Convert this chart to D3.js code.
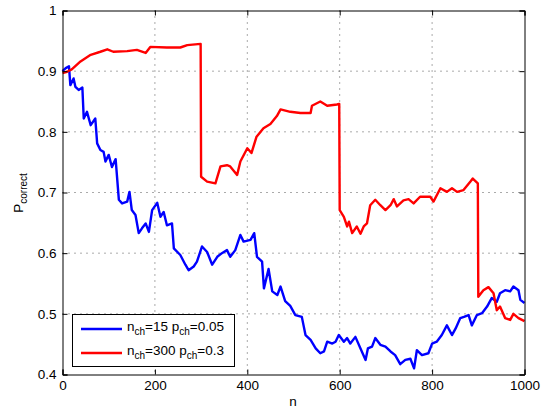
<!DOCTYPE html>
<html>
<head>
<meta charset="utf-8">
<script src="https://cdn.jsdelivr.net/npm/d3@7"></script>
<style>
  body { margin: 0; background: #fff; }
  text { font-family: "Liberation Sans", Arial, sans-serif; }
</style>
</head>
<body>
<svg id="chart"></svg>
<script>
// series: step index n and P_correct
var redN = [0,10,20,39,61,82,97,110,140,161,180,190,226,255,270,299,
            300,313,331,342,356,363,378,385,400,409,420,435,450,464,472,493,515,537,540,558,573,594,599,
            600,609,616,620,627,637,645,652,659,666,677,688,699,710,717,724,738,749,760,774,796,803,818,832,843,854,868,883,888,899,
            900,911,922,933,940,947,958,969,976,987,1000];
var redP = [0.897,0.899,0.903,0.916,0.927,0.932,0.936,0.932,0.933,0.935,0.930,0.940,0.939,0.939,0.943,0.945,
            0.726,0.718,0.715,0.743,0.745,0.743,0.729,0.751,0.773,0.765,0.792,0.806,0.813,0.826,0.837,0.833,0.831,0.831,0.843,0.850,0.843,0.845,0.846,
            0.671,0.660,0.644,0.652,0.633,0.644,0.632,0.644,0.649,0.679,0.688,0.679,0.671,0.679,0.689,0.677,0.687,0.689,0.682,0.693,0.693,0.685,0.707,0.701,0.707,0.701,0.704,0.718,0.723,0.715,
            0.528,0.539,0.544,0.534,0.506,0.512,0.493,0.490,0.500,0.493,0.488];

var blueN = [0,7,14,17,24,28,35,43,46,53,61,71,75,82,89,93,100,107,115,122,129,140,145,150,158,165,172,180,187,194,
             205,212,219,226,237,241,255,266,273,284,291,302,313,324,335,345,356,363,374,385,392,407,415,421,432,436,446,454,465,472,
             482,493,504,518,526,537,548,558,566,573,584,591,598,609,616,623,634,645,656,661,670,677,688,699,710,720,731,742,753,761,
             767,778,792,800,810,821,832,843,851,861,869,879,886,897,908,919,929,940,947,958,969,976,987,991,1000];
var blueP = [0.900,0.905,0.908,0.877,0.888,0.874,0.869,0.873,0.822,0.833,0.811,0.822,0.781,0.770,0.767,0.751,0.762,0.742,0.755,0.688,0.682,0.685,0.701,0.671,0.663,0.633,0.641,0.649,0.635,0.671,
             0.683,0.660,0.668,0.646,0.649,0.608,0.597,0.581,0.572,0.578,0.586,0.611,0.602,0.581,0.594,0.600,0.605,0.594,0.605,0.630,0.619,0.622,0.633,0.594,0.586,0.542,0.574,0.537,0.531,0.545,
             0.521,0.513,0.498,0.495,0.465,0.457,0.443,0.435,0.438,0.454,0.451,0.454,0.465,0.454,0.460,0.451,0.462,0.443,0.424,0.443,0.446,0.460,0.449,0.446,0.438,0.432,0.417,0.424,0.426,0.410,
             0.440,0.432,0.435,0.451,0.454,0.465,0.481,0.465,0.476,0.493,0.495,0.498,0.481,0.498,0.501,0.512,0.526,0.520,0.534,0.539,0.537,0.545,0.539,0.523,0.518];

var xTicks = [0,200,400,600,800,1000];
var yTicks = [0.4,0.5,0.6,0.7,0.8,0.9,1];

var width = 544;
var height = 410;
var mLeft = 62.5, mRight = 524.5, mTop = 10.5, mBottom = 374.5;

var svg = d3.select("#chart")
            .attr("width", width)
            .attr("height", height);

var x = d3.scaleLinear().domain([0,1000]).range([mLeft,mRight]);
var y = d3.scaleLinear().domain([0.4,1]).range([mBottom,mTop]);

/*grid*/
var grid = svg.append("g");
grid.selectAll("line.gx")
    .data(xTicks.slice(1,-1))
    .enter()
    .append("line")
    .attr("class", "gx")
    .attr("x1", function(d){ return x(d); })
    .attr("x2", function(d){ return x(d); })
    .attr("y1", mTop)
    .attr("y2", mBottom)
    .attr("stroke", "#555")
    .attr("stroke-dasharray", "1,5");
grid.selectAll("line.gy")
    .data(yTicks.slice(1,-1))
    .enter()
    .append("line")
    .attr("class", "gy")
    .attr("y1", function(d){ return y(d); })
    .attr("y2", function(d){ return y(d); })
    .attr("x1", mLeft)
    .attr("x2", mRight)
    .attr("stroke", "#555")
    .attr("stroke-dasharray", "1,5");

/*lines*/
var line = d3.line()
             .x(function(d){ return x(d[0]); })
             .y(function(d){ return y(d[1]); });

var blueData = blueN.map(function(n,i){ return [n, blueP[i]]; });
var redData = redN.map(function(n,i){ return [n, redP[i]]; });

svg.append("path")
   .attr("d", line(blueData))
   .attr("fill", "none")
   .attr("stroke", "#0000ff")
   .attr("stroke-width", 2.4)
   .attr("stroke-linejoin", "round");
svg.append("path")
   .attr("d", line(redData))
   .attr("fill", "none")
   .attr("stroke", "#ff0000")
   .attr("stroke-width", 2.4)
   .attr("stroke-linejoin", "round");

/*axes*/
var fmt = function(d){ return d === 1 ? "1" : d3.format(".1f")(d); };

svg.append("g")
   .attr("transform", "translate(0," + mBottom + ")")
   .call(d3.axisBottom(x).tickValues(xTicks).tickSize(-5).tickPadding(6).tickFormat(d3.format("d")));
svg.append("g")
   .attr("transform", "translate(0," + mTop + ")")
   .call(d3.axisTop(x).tickValues(xTicks).tickSize(-5).tickFormat(""));
svg.append("g")
   .attr("transform", "translate(" + mLeft + ",0)")
   .call(d3.axisLeft(y).tickValues(yTicks).tickSize(-5).tickPadding(6).tickFormat(fmt));
svg.append("g")
   .attr("transform", "translate(" + mRight + ",0)")
   .call(d3.axisRight(y).tickValues(yTicks).tickSize(-5).tickFormat(""));

svg.selectAll(".tick text")
   .attr("font-family", "Liberation Sans, Arial, sans-serif")
   .attr("font-size", "13.5px")
   .attr("fill", "#000");
svg.selectAll(".domain").attr("stroke", "#000");
svg.selectAll(".tick line").attr("stroke", "#000");

/*axis labels*/
svg.append("text")
   .attr("x", 293)
   .attr("y", 406)
   .attr("text-anchor", "middle")
   .attr("font-size", "13.5px")
   .text("n");

var yl = svg.append("text")
            .attr("transform", "translate(23,193) rotate(-90)")
            .attr("text-anchor", "middle")
            .attr("font-size", "13.5px");
yl.append("tspan").text("P");
yl.append("tspan").attr("font-size", "10px").attr("dy", 4).text("correct");

/*legend*/
var legendRows = [
  {color: "#0000ff", n: "15", p: "0.05"},
  {color: "#ff0000", n: "300", p: "0.3"}
];

var legend = svg.append("g");
legend.append("rect")
      .attr("x", 72.5)
      .attr("y", 314.5)
      .attr("width", 162)
      .attr("height", 52)
      .attr("fill", "#fff")
      .attr("stroke", "#000");

legend.selectAll("line")
      .data(legendRows)
      .enter()
      .append("line")
      .attr("x1", 81)
      .attr("x2", 122)
      .attr("y1", function(d,i){ return 329 + i*24; })
      .attr("y2", function(d,i){ return 329 + i*24; })
      .attr("stroke", function(d){ return d.color; })
      .attr("stroke-width", 2.4);

var lt = legend.selectAll("text")
               .data(legendRows)
               .enter()
               .append("text")
               .attr("x", 127)
               .attr("y", function(d,i){ return 331 + i*24; })
               .attr("font-size", "13.5px");
lt.append("tspan").text("n");
lt.append("tspan").attr("font-size", "10px").attr("dy", 4).text("ch");
lt.append("tspan").attr("dy", -4).text(function(d){ return "=" + d.n + " p"; });
lt.append("tspan").attr("font-size", "10px").attr("dy", 4).text("ch");
lt.append("tspan").attr("dy", -4).text(function(d){ return "=" + d.p; });
</script>
</body>
</html>
